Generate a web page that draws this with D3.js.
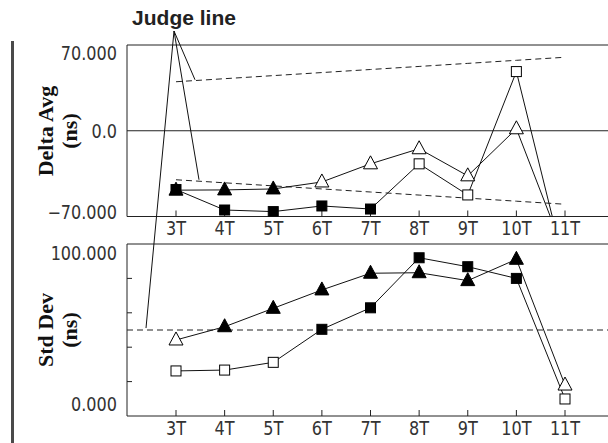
<!DOCTYPE html>
<html><head><meta charset="utf-8">
<script src="https://cdn.jsdelivr.net/npm/d3@7"></script>
<style>
html,body{margin:0;padding:0;background:#fff;}
svg{display:block;}
.tick-lbl{font-family:'DejaVu Sans Condensed','DejaVu Sans',sans-serif;font-stretch:condensed;font-size:19px;fill:#333;}
.title{font-family:'Liberation Serif','Times New Roman',serif;font-weight:bold;font-size:22px;fill:#111;}
.judge{font-family:'Liberation Sans',Arial,sans-serif;font-weight:bold;font-size:21px;fill:#222;}
</style></head>
<body><svg id="chart" width="608" height="443"></svg>
<script>
// ---- data ----
const categories = ["3T","4T","5T","6T","7T","8T","9T","10T","11T"];
// Delta Avg (ns)
const avgTriangle = [-48.5, -48.3, -47.5, -41.8, -27.0, -14.7, -36.8, 1.6, -101];
const avgSquare   = [-48.0, -64.7, -66.0, -61.4, -63.9, -27.0, -52.4, 48.3, -112];
const avgJudgeUpper = [40, 42.5, 45, 47.5, 50, 52.5, 55, 57.5, 60];
const avgJudgeLower = [-40, -42.5, -45, -47.5, -50, -52.5, -55, -57.5, -60];
const avgTicks = [70, 0, -70];
const avgTickLabels = ["70.000", "0.0", "\u221270.000"];
// Std Dev (ns)
const sdTriangle = [44.2, 51.9, 62.6, 73.3, 83.0, 83.3, 78.7, 91.1, 18.0];
const sdSquare   = [26.2, 26.7, 31.2, 50.4, 62.9, 92.0, 86.8, 80.0, 9.9];
const sdJudge = 50;
const sdTicks = [100, 0];
const sdTickLabels = ["100.000", "0.000"];
const sdMinorTicks = [20, 40, 60, 80];

const svg = d3.select("#chart");
const frameLeft = 127, frameRight = 608;
const squeeze = 0.94;

const x = d3.scalePoint().domain(categories).range([176, 565]);
const yAvg = d3.scaleLinear().domain([-70, 70]).range([216.5, 45]);
const ySd = d3.scaleLinear().domain([0, 100]).range([416, 244]);

// left thick bar
svg.append("rect").attr("x", 11).attr("y", 41).attr("width", 3).attr("height", 402).attr("fill", "#4a4a4a");

const defs = svg.append("defs");
function clip(id, y0, y1) {
  defs.append("clipPath").attr("id", id).append("rect")
    .attr("x", frameLeft).attr("y", y0).attr("width", frameRight - frameLeft).attr("height", y1 - y0);
}
clip("clipAvg", yAvg(70), yAvg(-70));
clip("clipSd", ySd(100), ySd(0));

function triPath(){ return "M0,-8L7,5L-7,5Z"; }

function label(x0, y0, txt, anchor) {
  svg.append("text").attr("class", "tick-lbl")
    .attr("transform", `translate(${x0},${y0}) scale(${squeeze},1)`)
    .attr("text-anchor", anchor).attr("dominant-baseline", "central").text(txt);
}

function panel(y, tri, sq, isFilledTri, isFilledSq, clipId) {
  const g = svg.append("g");
  const [yb, yt] = y.range();
  g.append("line").attr("x1", frameLeft).attr("x2", frameRight).attr("y1", yt).attr("y2", yt).attr("stroke", "#222");
  g.append("line").attr("x1", frameLeft).attr("x2", frameRight).attr("y1", yb).attr("y2", yb).attr("stroke", "#222");
  g.append("line").attr("x1", frameLeft).attr("x2", frameLeft).attr("y1", yt).attr("y2", yb).attr("stroke", "#222");
  g.selectAll(".xt").data(categories).enter().append("line")
    .attr("x1", d => x(d)).attr("x2", d => x(d)).attr("y1", yb).attr("y2", yb - 6).attr("stroke", "#222");
  categories.forEach(c => label(x(c), yb + 12, c, "middle"));
  const pg = svg.append("g").attr("clip-path", `url(#${clipId})`);
  const line = d3.line().x((d, i) => x(categories[i])).y(d => y(d));
  pg.append("path").datum(sq).attr("d", line).attr("fill", "none").attr("stroke", "#111").attr("stroke-width", 1);
  pg.append("path").datum(tri).attr("d", line).attr("fill", "none").attr("stroke", "#111").attr("stroke-width", 1);
  pg.selectAll(".sq").data(sq).enter().append("rect")
    .attr("x", (d, i) => x(categories[i]) - 5).attr("y", d => y(d) - 5).attr("width", 10).attr("height", 10)
    .attr("fill", (d, i) => isFilledSq(d, i) ? "#000" : "#fff").attr("stroke", "#000");
  pg.selectAll(".tr").data(tri).enter().append("path").attr("d", triPath())
    .attr("transform", (d, i) => `translate(${x(categories[i])},${y(d)})`)
    .attr("fill", (d, i) => isFilledTri(d, i) ? "#000" : "#fff").attr("stroke", "#000");
  return pg;
}

// Top panel
const outAvg = (d, i) => d > avgJudgeUpper[i] || d < avgJudgeLower[i];
panel(yAvg, avgTriangle, avgSquare, outAvg, outAvg, "clipAvg");
svg.insert("line", "g").attr("x1", frameLeft).attr("x2", frameRight).attr("y1", yAvg(0)).attr("y2", yAvg(0)).attr("stroke", "#222");
const judgeLine = d3.line().x((d, i) => x(categories[i])).y(d => yAvg(d));
[avgJudgeUpper, avgJudgeLower].forEach(arr => {
  svg.insert("path", "g").datum(arr).attr("d", judgeLine).attr("fill", "none").attr("stroke", "#222").attr("stroke-dasharray", "6,4");
});
// Bottom panel
const outSd = d => d > sdJudge;
svg.insert("line", "g").attr("x1", frameLeft).attr("x2", frameRight).attr("y1", ySd(sdJudge)).attr("y2", ySd(sdJudge))
  .attr("stroke", "#222").attr("stroke-dasharray", "6,4");
panel(ySd, sdTriangle, sdSquare, outSd, outSd, "clipSd");
svg.selectAll(".mt").data(sdMinorTicks).enter().append("line")
  .attr("x1", frameLeft).attr("x2", frameLeft + 5).attr("y1", d => ySd(d)).attr("y2", d => ySd(d)).attr("stroke", "#222");

// y tick labels
const avgOff = [8, 1, -4.5];
avgTicks.forEach((d, i) => label(117, yAvg(d) + avgOff[i], avgTickLabels[i], "end"));
const sdOff = [9, -12];
sdTicks.forEach((d, i) => label(117, ySd(d) + sdOff[i], sdTickLabels[i], "end"));

// axis titles
function vtitle(lines, cy) {
  const t = svg.append("text").attr("class", "title").attr("transform", `translate(0,${cy}) rotate(-90)`).attr("text-anchor", "middle");
  t.append("tspan").attr("x", 0).attr("y", 53).text(lines[0]);
  t.append("tspan").attr("x", 0).attr("y", 77).text(lines[1]);
}
vtitle(["Delta Avg", "(ns)"], 131);
vtitle(["Std Dev", "(ns)"], 330);

// Judge line annotation
svg.append("text").attr("class", "judge").attr("x", 184).attr("y", 25).attr("text-anchor", "middle").text("Judge line");
const apex = [174, 31];
const targets = [[x("3T") + 19, yAvg(avgJudgeUpper[0]) - 2], [x("3T") + 23, yAvg(avgJudgeLower[0])], [146, ySd(sdJudge) - 2]];
targets.forEach(t => {
  svg.append("line").attr("x1", apex[0]).attr("y1", apex[1]).attr("x2", t[0]).attr("y2", t[1]).attr("stroke", "#111");
});
</script></body></html>
